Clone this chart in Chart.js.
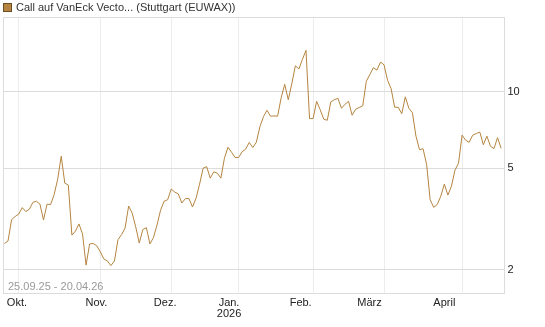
<!DOCTYPE html>
<html><head><meta charset="utf-8">
<script src="https://cdn.jsdelivr.net/npm/chart.js@4/dist/chart.umd.min.js"></script>
<style>html,body{margin:0;padding:0;background:#fff}#wrap{width:545px;height:327px;position:relative}</style>
</head><body><div id="wrap"><canvas id="c"></canvas></div>
<script>
const seriesName = 'Call auf VanEck Vecto... (Stuttgart (EUWAX))';
const dateRange = '25.09.25 - 20.04.26';
const prices = [
2.54,2.60,3.15,3.24,3.31,3.51,3.39,3.46,3.68,3.72,
3.62,3.14,3.62,3.61,3.95,4.54,5.58,4.38,4.30,2.74,
2.84,3.03,2.77,2.09,2.53,2.54,2.49,2.36,2.21,2.17,
2.08,2.17,2.63,2.75,2.92,3.56,3.34,2.95,2.55,2.88,
2.93,2.53,2.68,3.00,3.43,3.72,3.77,4.15,4.04,3.97,
3.66,3.81,3.81,3.53,3.82,4.34,5.01,5.08,4.58,4.85,
4.79,4.58,5.48,6.05,5.79,5.52,5.52,5.81,5.95,6.32,
6.04,6.33,7.28,7.97,8.45,8.01,8.03,8.01,9.46,10.68,
9.29,10.73,12.62,12.26,13.38,14.51,7.84,7.84,9.16,8.49,
7.80,7.72,9.12,9.29,9.41,8.60,8.92,9.16,8.08,8.53,
8.66,8.80,10.97,11.67,12.41,12.14,13.05,12.73,11.07,10.26,
8.68,8.68,8.19,9.54,8.60,8.26,6.69,5.92,5.97,5.19,
3.77,3.52,3.61,3.89,4.34,3.93,4.26,4.92,5.24,6.75,
6.45,6.33,6.75,6.85,6.94,6.19,6.69,6.11,5.98,6.60,6.00
];
const monthLabels = ['Okt.','Nov.','Dez.',['Jan.','2026'],'Feb.','März','April'];
const monthStartIndex = [4,27,47,66,87,107,129];
const monthLabelIndex = [3.5,25.9,45.3,63.3,83.5,102.9,124];
const yTicks = [2,5,10];

const lineColor = '#b5843f';
const FONT = '"Liberation Sans", Arial, sans-serif';

const framePlugin = {
  id: 'frame',
  beforeDatasetsDraw(chart){
    const {ctx, chartArea:a} = chart;
    ctx.save();
    ctx.strokeStyle = '#dcdcdc';
    ctx.lineWidth = 1;
    ctx.strokeRect(Math.round(a.left)+0.5, Math.round(a.top)+0.5, Math.round(a.right-a.left), Math.round(a.bottom-a.top));
    ctx.restore();
  },
  afterDraw(chart){
    const {ctx, chartArea:a} = chart;
    ctx.save();
    ctx.font = '11px ' + FONT;
    ctx.textBaseline = 'middle';
    // legend
    ctx.fillStyle = lineColor;
    ctx.fillRect(3.5, 3.5, 8, 8);
    ctx.strokeStyle = '#6b4e25';
    ctx.lineWidth = 1;
    ctx.strokeRect(3.5, 3.5, 8, 8);
    ctx.fillStyle = '#333';
    ctx.fillText(seriesName, 16, 8);
    // date range
    ctx.fillStyle = '#9a9a9a';
    ctx.fillText(dateRange, 8, a.bottom - 6);
    ctx.restore();
  }
};

new Chart(document.getElementById('c'), {
  type: 'line',
  data: { datasets: [{
    data: prices.map((v,i)=>({x:i, y:v})),
    borderColor: lineColor, borderWidth: 1, pointRadius: 0, tension: 0, fill: false
  }]},
  options: {
    responsive: true, maintainAspectRatio: false, animation: false,
    layout: { padding: { top: 17, left: 3, right: 0, bottom: 0 } },
    plugins: { legend: {display:false}, tooltip: {enabled:false} },
    scales: {
      x: {
        type: 'linear', position: 'bottom', min: -0.42, max: 140.68,
        grid: { display: false, drawTicks: false },
        border: { display: false },
        afterBuildTicks: s => { s.ticks = monthLabelIndex.map(v=>({value:v})); },
        afterFit: s => { s.height = 34; },
        ticks: { autoSkip: false, maxRotation: 0, padding: 4, color: '#222',
          font: { size: 11, family: FONT, lineHeight: 1.05 },
          callback: (v, i) => monthLabels[i] }
      },
      xg: {
        type: 'linear', position: 'top', min: -0.42, max: 140.68,
        grid: { color: '#ececec', drawTicks: false },
        border: { display: false },
        afterBuildTicks: s => { s.ticks = monthStartIndex.map(v=>({value:v})); },
        afterFit: s => { s.height = 0; },
        ticks: { display: false }
      },
      y: {
        type: 'logarithmic', position: 'right', min: 1.625, max: 19.6,
        grid: { color: '#dcdcdc', drawTicks: false },
        border: { display: false },
        afterBuildTicks: s => { s.ticks = yTicks.map(v=>({value:v})); },
        afterFit: s => { s.width = 41.5; },
        ticks: { padding: 4, color: '#222', font: { size: 11, family: FONT },
          callback: v => String(v) }
      }
    }
  },
  plugins: [framePlugin]
});
</script></body></html>
